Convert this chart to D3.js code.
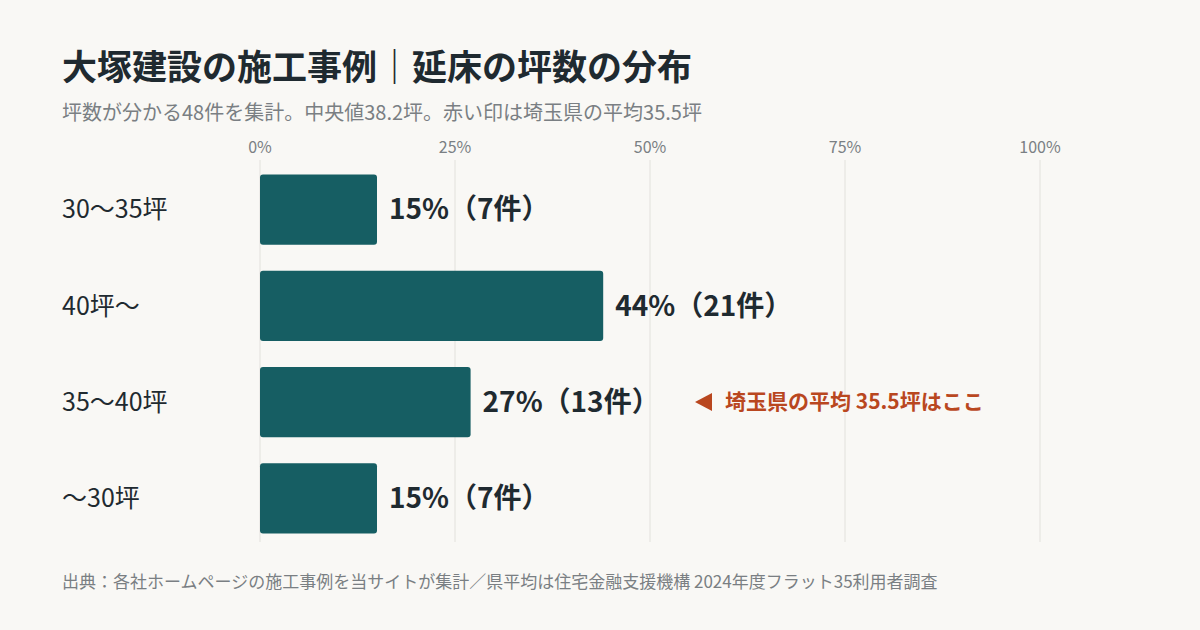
<!DOCTYPE html>
<html><head><meta charset="utf-8">
<script src="https://cdn.jsdelivr.net/npm/d3@7"></script>
<style>body{margin:0;background:#f9f8f5;font-family:"Noto Sans CJK JP","Noto Sans",sans-serif}</style>
</head><body>
<script>
const categories = ["30〜35坪", "40坪〜", "35〜40坪", "〜30坪"]
const shares = [15, 44, 27, 15]
const counts = [7, 21, 13, 7]
const ticks = [0, 25, 50, 75, 100]
const noteRow = "35〜40坪"

const width = 1200, height = 630
const svg = d3.select("body").append("svg")
  .attr("width", width).attr("height", height)
  .style("background", "#f9f8f5")

const x = d3.scaleLinear().domain([0, 100]).range([260, 1040])
const y = d3.scaleBand().domain(categories).range([162, 546]).paddingInner(0.27).paddingOuter(0.13)

svg.append("text").attr("x", 62).attr("y", 80)
  .attr("font-size", 35).attr("font-weight", 700).attr("fill", "#1f2a30")
  .text("大塚建設の施工事例｜延床の坪数の分布")
svg.append("text").attr("x", 62).attr("y", 120)
  .attr("font-size", 20).attr("fill", "#7a7f83")
  .text("坪数が分かる48件を集計。中央値38.2坪。赤い印は埼玉県の平均35.5坪")

const g = svg.append("g")
g.selectAll(".grid").data(ticks).join("line")
  .attr("x1", d => x(d)).attr("x2", d => x(d))
  .attr("y1", 160).attr("y2", 542)
  .attr("stroke", "#e2e1dc").attr("stroke-width", 1)
g.selectAll(".tick").data(ticks).join("text")
  .attr("x", d => x(d)).attr("y", 153).attr("text-anchor", "middle")
  .attr("font-size", 16).attr("fill", "#7a7f83")
  .text(d => d + "%")

g.selectAll(".bar").data(categories).join("rect")
  .attr("x", x(0)).attr("y", d => y(d))
  .attr("width", (d, i) => x(shares[i]) - x(0)).attr("height", y.bandwidth())
  .attr("rx", 3).attr("fill", "#165e63")

g.selectAll(".cat").data(categories).join("text")
  .attr("x", 62).attr("y", d => y(d) + y.bandwidth() / 2)
  .attr("dy", "0.35em").attr("font-size", 25).attr("fill", "#1f2a30")
  .text(d => d)

g.selectAll(".val").data(categories).join("text")
  .attr("x", (d, i) => x(shares[i]) + 12).attr("y", d => y(d) + y.bandwidth() / 2)
  .attr("dy", "0.35em").attr("font-size", 28).attr("font-weight", 700).attr("fill", "#1f2a30")
  .text((d, i) => `${shares[i]}%（${counts[i]}件）`)

const ny = y(noteRow) + y.bandwidth() / 2
svg.append("path").attr("d", `M695,${ny} L712,${ny - 9} L712,${ny + 9} Z`).attr("fill", "#b9471f")
svg.append("text").attr("x", 725).attr("y", ny).attr("dy", "0.35em")
  .attr("font-size", 21).attr("font-weight", 700).attr("fill", "#b9471f")
  .text("埼玉県の平均 35.5坪はここ")

svg.append("text").attr("x", 62).attr("y", 588)
  .attr("font-size", 17).attr("fill", "#7a7f83")
  .text("出典：各社ホームページの施工事例を当サイトが集計／県平均は住宅金融支援機構 2024年度フラット35利用者調査")
</script>
</body></html>
